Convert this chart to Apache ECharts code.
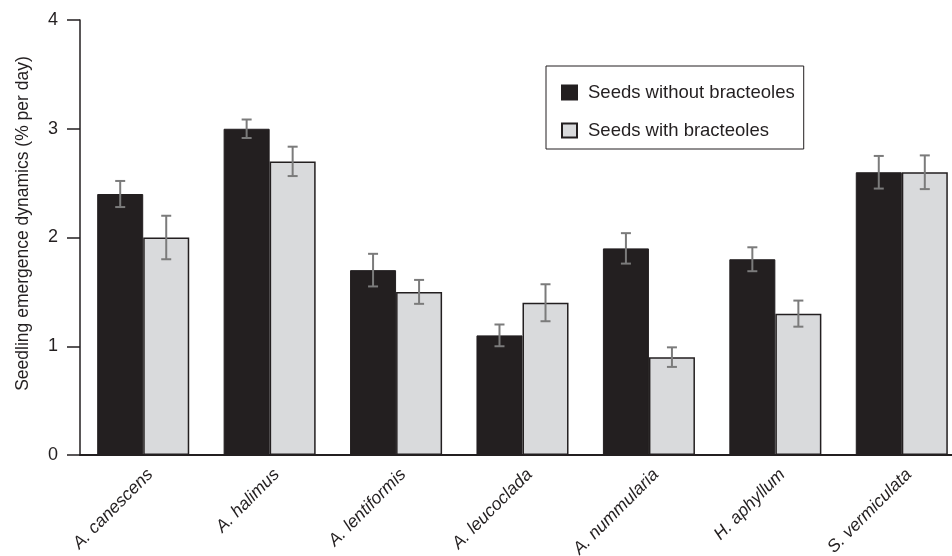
<!DOCTYPE html>
<html>
<head>
<meta charset="utf-8">
<script src="https://cdn.jsdelivr.net/npm/echarts@6/dist/echarts.min.js"></script>
<style>
  html, body { margin: 0; padding: 0; background: #ffffff; }
  #chart { width: 952px; height: 556px; }
</style>
</head>
<body>
<div id="chart"></div>
<script>
// Species on the category axis
var species = ['A. canescens', 'A. halimus', 'A. lentiformis', 'A. leucoclada', 'A. nummularia', 'H. aphyllum', 'S. vermiculata'];

// Mean seedling emergence (% per day)
var withoutBracteoles = [2.4, 3.0, 1.7, 1.1, 1.9, 1.8, 2.6];
var withBracteoles = [2.0, 2.7, 1.5, 1.4, 0.9, 1.3, 2.6];

// Standard errors
var errWithout = [0.12, 0.085, 0.15, 0.10, 0.14, 0.11, 0.15];
var errWith = [0.20, 0.135, 0.11, 0.17, 0.09, 0.12, 0.155];

var yTicks = [0, 1, 2, 3, 4];

var FONT = 'Liberation Sans, Arial, Helvetica, sans-serif';
var INK = '#231f20';
var BAR_FRACTION = 0.364;

function errorData(means, errs) {
  return means.map(function (m, i) { return [i, m - errs[i], m + errs[i]]; });
}

// Whisker with caps, shifted to sit over the left (-1) or right (+1) bar of a pair
function whiskerRenderer(side) {
  return function (params, api) {
    var idx = api.value(0);
    var lo = api.coord([idx, api.value(1)]);
    var hi = api.coord([idx, api.value(2)]);
    var band = api.size([1, 0])[0];
    var dx = side * band * BAR_FRACTION / 2;
    var x = lo[0] + dx;
    var cap = 5;
    var style = { stroke: '#7b7b7b', lineWidth: 2 };
    return {
      type: 'group',
      children: [
        { type: 'line', shape: { x1: x, y1: lo[1], x2: x, y2: hi[1] }, style: style },
        { type: 'line', shape: { x1: x - cap, y1: lo[1], x2: x + cap, y2: lo[1] }, style: style },
        { type: 'line', shape: { x1: x - cap, y1: hi[1], x2: x + cap, y2: hi[1] }, style: style }
      ]
    };
  };
}

var chart = echarts.init(document.getElementById('chart'), null, { renderer: 'canvas' });

chart.setOption({
  animation: false,
  backgroundColor: '#ffffff',
  textStyle: { fontFamily: FONT },
  grid: { left: 80, top: 20, width: 885, height: 435, containLabel: false, outerBoundsMode: 'none' },
  legend: {
    orient: 'vertical',
    left: 546,
    top: 66,
    data: ['Seeds without bracteoles', 'Seeds with bracteoles'],
    icon: 'rect',
    itemWidth: 15,
    itemHeight: 14,
    itemGap: 19,
    padding: [17, 9, 9, 15],
    borderColor: INK,
    borderWidth: 1,
    borderRadius: 0,
    selectedMode: false,
    textStyle: { fontFamily: FONT, fontSize: 18.5, color: INK, padding: [0, 0, 0, 6] }
  },
  xAxis: {
    type: 'category',
    data: species,
    axisLine: { lineStyle: { color: INK, width: 2 } },
    axisTick: { show: false },
    axisLabel: {
      interval: 0,
      rotate: 45,
      margin: 24,
      padding: [0, -10, 0, 0],
      fontFamily: FONT,
      fontStyle: 'italic',
      fontSize: 17.5,
      color: INK
    }
  },
  yAxis: {
    type: 'value',
    min: 0,
    max: 4,
    interval: 1,
    name: 'Seedling emergence dynamics (% per day)',
    nameLocation: 'middle',
    nameGap: 48,
    nameTextStyle: { fontFamily: FONT, fontSize: 17.5, color: INK, padding: [0, 0, 0, 28] },
    axisLine: { show: true, lineStyle: { color: INK, width: 1.5 } },
    axisTick: { show: true, inside: false, length: 13, lineStyle: { color: INK, width: 1.5 } },
    axisLabel: {
      margin: 22,
      fontFamily: FONT,
      fontSize: 18,
      color: INK,
      formatter: function (v) { return yTicks.indexOf(v) >= 0 ? String(v) : ''; }
    },
    splitLine: { show: false }
  },
  series: [
    {
      name: 'Seeds without bracteoles',
      type: 'bar',
      data: withoutBracteoles,
      barWidth: (BAR_FRACTION * 100) + '%',
      barGap: '0%',
      itemStyle: { color: INK, borderColor: INK, borderWidth: 1 }
    },
    {
      name: 'Seeds with bracteoles',
      type: 'bar',
      data: withBracteoles,
      barWidth: (BAR_FRACTION * 100) + '%',
      barGap: '0%',
      itemStyle: { color: '#d9dadc', borderColor: INK, borderWidth: 1.5 }
    },
    {
      type: 'custom',
      renderItem: whiskerRenderer(-1),
      data: errorData(withoutBracteoles, errWithout),
      encode: { x: 0, y: [1, 2] },
      z: 5
    },
    {
      type: 'custom',
      renderItem: whiskerRenderer(1),
      data: errorData(withBracteoles, errWith),
      encode: { x: 0, y: [1, 2] },
      z: 5
    }
  ]
});
</script>
</body>
</html>
